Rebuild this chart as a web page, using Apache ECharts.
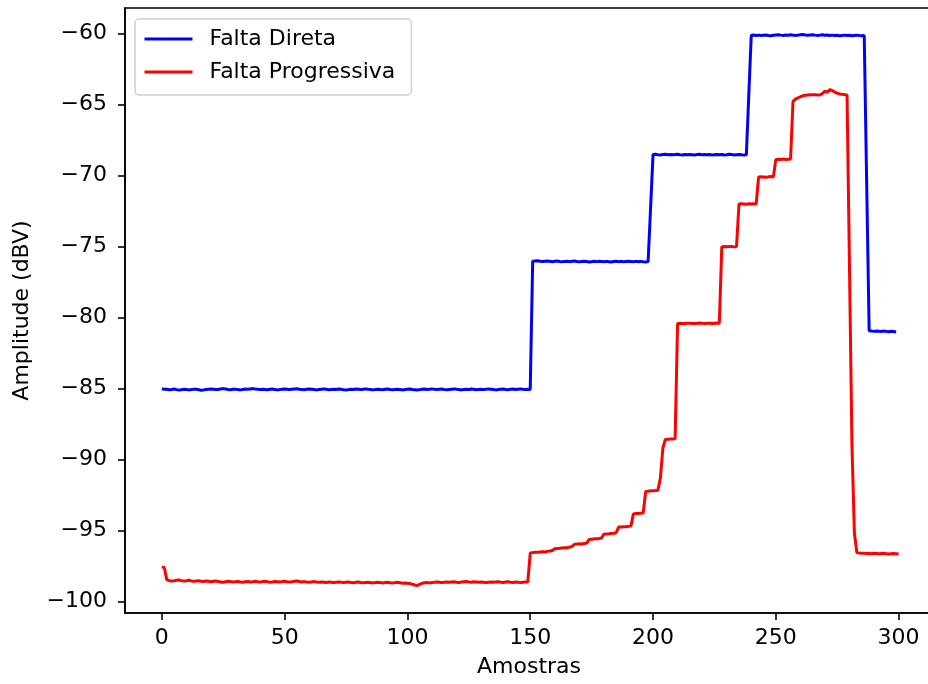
<!DOCTYPE html>
<html>
<head>
<meta charset="utf-8">
<script src="https://cdn.jsdelivr.net/npm/echarts@6/dist/echarts.min.js"></script>
<style>
  html, body { margin: 0; padding: 0; background: #fff; }
  #chart { width: 928px; height: 684px; }
</style>
</head>
<body>
<div id="chart"></div>
<script>
// amplitude (dBV) per sample
var faltaDireta = [
  -85.02,-85.05,-85.04,-85.08,-85.06,-85.03,-85.07,-85.10,-85.08,-85.05,
  -85.06,-85.09,-85.07,-85.04,-85.05,-85.08,-85.11,-85.09,-85.06,-85.04,
  -85.03,-85.05,-85.07,-85.06,-85.02,-85.00,-85.03,-85.06,-85.08,-85.05,
  -85.04,-85.07,-85.09,-85.06,-85.03,-85.05,-85.02,-85.00,-85.03,-85.05,
  -85.07,-85.04,-85.06,-85.08,-85.05,-85.03,-85.06,-85.09,-85.07,-85.04,
  -85.02,-85.04,-85.07,-85.05,-85.03,-85.01,-85.04,-85.06,-85.08,-85.05,
  -85.03,-85.05,-85.07,-85.09,-85.06,-85.04,-85.02,-85.05,-85.08,-85.06,
  -85.04,-85.06,-85.03,-85.05,-85.08,-85.10,-85.07,-85.04,-85.06,-85.03,
  -85.05,-85.07,-85.04,-85.02,-85.05,-85.07,-85.09,-85.06,-85.04,-85.06,
  -85.08,-85.05,-85.03,-85.06,-85.08,-85.06,-85.04,-85.07,-85.09,-85.07,
  -85.05,-85.03,-85.06,-85.08,-85.10,-85.07,-85.05,-85.03,-85.06,-85.04,
  -85.02,-85.05,-85.07,-85.05,-85.03,-85.06,-85.08,-85.06,-85.04,-85.02,
  -85.05,-85.07,-85.09,-85.06,-85.04,-85.06,-85.03,-85.05,-85.08,-85.06,
  -85.04,-85.07,-85.05,-85.02,-85.04,-85.06,-85.09,-85.07,-85.05,-85.03,
  -85.06,-85.08,-85.05,-85.03,-85.06,-85.04,-85.02,-85.05,-85.07,-85.05,
  -85.06,
  -76.04,-76.02,-76.00,-76.03,-76.05,-76.03,-76.01,-76.04,-76.06,
  -76.04,-76.02,-76.05,-76.07,-76.05,-76.03,-76.06,-76.04,-76.02,-76.05,
  -76.07,-76.05,-76.03,-76.05,-76.08,-76.06,-76.04,-76.06,-76.03,-76.05,
  -76.07,-76.04,-76.06,-76.08,-76.05,-76.03,-76.06,-76.04,-76.07,-76.05,
  -76.03,-76.05,-76.07,-76.04,-76.06,-76.04,-76.07,-76.09,-76.06,
  -72.3,
  -68.52,-68.50,-68.53,-68.55,-68.52,-68.50,-68.53,-68.51,-68.54,-68.52,
  -68.50,-68.53,-68.55,-68.52,-68.54,-68.51,-68.53,-68.55,-68.52,-68.50,
  -68.53,-68.51,-68.54,-68.52,-68.55,-68.53,-68.51,-68.54,-68.52,-68.55,
  -68.53,-68.50,-68.52,-68.55,-68.53,-68.51,-68.54,-68.56,-68.53,
  -64.3,
  -60.12,-60.10,-60.13,-60.11,-60.14,-60.12,-60.10,-60.13,-60.15,-60.12,
  -60.10,-60.08,-60.11,-60.13,-60.10,-60.12,-60.09,-60.11,-60.13,-60.11,
  -60.09,-60.07,-60.10,-60.12,-60.10,-60.08,-60.11,-60.13,-60.11,-60.09,
  -60.12,-60.10,-60.13,-60.11,-60.14,-60.12,-60.15,-60.13,-60.11,-60.14,
  -60.12,-60.15,-60.13,-60.11,-60.14,-60.16,-60.13,
  -70.6,
  -80.92,-80.95,-80.97,-80.94,-80.96,-80.98,-80.95,-80.97,-81.00,-80.96,-80.98,-81.01
];

var faltaProgressiva = [
  -97.55,-97.60,-98.45,-98.52,-98.55,-98.53,-98.50,-98.48,-98.52,-98.55,
  -98.53,-98.50,-98.54,-98.57,-98.55,-98.52,-98.56,-98.58,-98.55,-98.57,
  -98.60,-98.57,-98.55,-98.58,-98.61,-98.64,-98.60,-98.57,-98.59,-98.62,
  -98.60,-98.58,-98.61,-98.63,-98.60,-98.58,-98.62,-98.60,-98.57,-98.60,
  -98.62,-98.59,-98.57,-98.60,-98.63,-98.61,-98.58,-98.60,-98.62,-98.59,
  -98.57,-98.60,-98.62,-98.60,-98.57,-98.55,-98.58,-98.61,-98.59,-98.62,
  -98.64,-98.61,-98.59,-98.62,-98.64,-98.61,-98.63,-98.65,-98.62,-98.64,
  -98.66,-98.63,-98.61,-98.64,-98.66,-98.64,-98.62,-98.65,-98.67,-98.64,
  -98.62,-98.65,-98.67,-98.65,-98.63,-98.66,-98.68,-98.65,-98.63,-98.66,
  -98.68,-98.66,-98.64,-98.67,-98.69,-98.66,-98.64,-98.67,-98.70,-98.68,
  -98.70,-98.73,-98.78,-98.83,-98.86,-98.78,-98.70,-98.67,-98.65,-98.68,
  -98.66,-98.63,-98.61,-98.64,-98.66,-98.63,-98.61,-98.64,-98.62,-98.60,
  -98.63,-98.65,-98.62,-98.60,-98.58,-98.61,-98.63,-98.60,-98.62,-98.64,
  -98.61,-98.63,-98.66,-98.63,-98.61,-98.64,-98.62,-98.60,-98.63,-98.65,
  -98.62,-98.60,-98.63,-98.65,-98.62,-98.64,-98.66,-98.63,-98.61,-98.62,
  -96.58,-96.55,-96.52,-96.53,-96.50,-96.48,-96.50,-96.46,-96.44,-96.40,
  -96.28,-96.25,-96.24,-96.22,-96.20,-96.20,-96.16,-96.12,-95.96,-95.95,
  -95.93,-95.94,-95.90,-95.88,-95.62,-95.60,-95.58,-95.57,-95.55,-95.52,
  -95.25,-95.23,-95.22,-95.20,-95.18,-95.15,-94.75,-94.74,-94.72,-94.72,
  -94.70,-94.68,-93.82,-93.80,-93.80,-93.78,-93.76,-92.25,-92.22,-92.20,
  -92.20,-92.18,-92.15,-91.30,-89.20,-88.58,-88.56,-88.55,-88.54,-88.52,
  -80.42,-80.40,-80.42,-80.41,-80.39,-80.40,-80.42,-80.41,-80.40,-80.38,
  -80.40,-80.41,-80.39,-80.40,-80.42,-80.40,-80.38,-80.40,-75.02,-75.00,
  -75.01,-74.99,-75.00,-75.02,-75.00,-72.00,-71.98,-72.00,-72.02,-71.99,
  -72.00,-71.98,-72.01,-70.10,-70.08,-70.10,-70.12,-70.09,-70.07,-70.10,
  -68.86,-68.85,-68.87,-68.84,-68.86,-68.85,-68.83,-64.78,-64.62,-64.53,
  -64.45,-64.38,-64.35,-64.32,-64.30,-64.31,-64.30,-64.32,-64.33,-64.22,
  -64.05,-64.12,-63.95,-64.02,-64.12,-64.20,-64.25,-64.28,-64.30,-64.32,
  -76.50,-89.00,-95.20,-96.55,-96.58,-96.60,-96.59,-96.61,-96.60,-96.62,
  -96.60,-96.61,-96.63,-96.61,-96.60,-96.62,-96.64,-96.62,-96.61,-96.63,-96.65
];

var xTicks = [0, 50, 100, 150, 200, 250, 300];
var yTicks = [-100, -95, -90, -85, -80, -75, -70, -65, -60];

var FONT = 'DejaVu Sans';
var FS = 22;

function toPairs(arr) {
  return arr.map(function (v, i) { return [i, v]; });
}
function minusSign(v) {
  return String(v).replace('-', '\u2212');
}

var chart = echarts.init(document.getElementById('chart'), null, { renderer: 'canvas' });

var option = {
  animation: false,
  backgroundColor: '#fff',
  textStyle: { fontFamily: FONT },
  grid: {
    left: 125, top: 8, width: 808, height: 605,
    show: true, borderColor: '#000', borderWidth: 1.6,
    outerBoundsMode: 'none'
  },
  legend: {
    left: 135, top: 19,
    orient: 'vertical',
    padding: [8, 16, 11, 8],
    itemWidth: 48, itemHeight: 14, itemGap: 9,
    backgroundColor: 'rgba(255,255,255,0.8)',
    borderColor: '#d0d0d0', borderWidth: 1.5, borderRadius: 4,
    itemStyle: { opacity: 0 },
    lineStyle: { width: 3 },
    textStyle: { fontFamily: FONT, fontSize: FS, color: '#000', lineHeight: 24, padding: [0, 0, 0, 12] },
    data: ['Falta Direta', 'Falta Progressiva']
  },
  xAxis: {
    type: 'value',
    min: -15, max: 314,
    name: 'Amostras', nameLocation: 'middle', nameGap: 43,
    nameTextStyle: { fontFamily: FONT, fontSize: FS, color: '#000' },
    axisLine: { show: true, onZero: false, lineStyle: { color: '#000', width: 1.6 } },
    axisTick: { show: true, customValues: xTicks, length: 7, lineStyle: { color: '#000', width: 1.6 } },
    axisLabel: { customValues: xTicks, margin: 14, fontFamily: FONT, fontSize: FS, color: '#000', formatter: minusSign },
    splitLine: { show: false }
  },
  yAxis: {
    type: 'value',
    min: -100.8, max: -58.2,
    name: 'Amplitude (dBV)', nameLocation: 'middle', nameGap: 92,
    nameTextStyle: { fontFamily: FONT, fontSize: FS, color: '#000' },
    axisLine: { show: true, onZero: false, lineStyle: { color: '#000', width: 1.6 } },
    axisTick: { show: true, customValues: yTicks, length: 7, lineStyle: { color: '#000', width: 1.6 } },
    axisLabel: { customValues: yTicks, margin: 18, fontFamily: FONT, fontSize: FS, color: '#000', formatter: minusSign },
    splitLine: { show: false }
  },
  series: [
    {
      name: 'Falta Direta',
      type: 'line',
      data: toPairs(faltaDireta),
      symbol: 'none', showSymbol: false,
      color: '#0000ff',
      lineStyle: { color: '#0000ff', width: 3 }
    },
    {
      name: 'Falta Progressiva',
      type: 'line',
      data: toPairs(faltaProgressiva),
      symbol: 'none', showSymbol: false,
      color: '#ff0000',
      lineStyle: { color: '#ff0000', width: 3 }
    }
  ]
};

chart.setOption(option);
</script>
</body>
</html>
